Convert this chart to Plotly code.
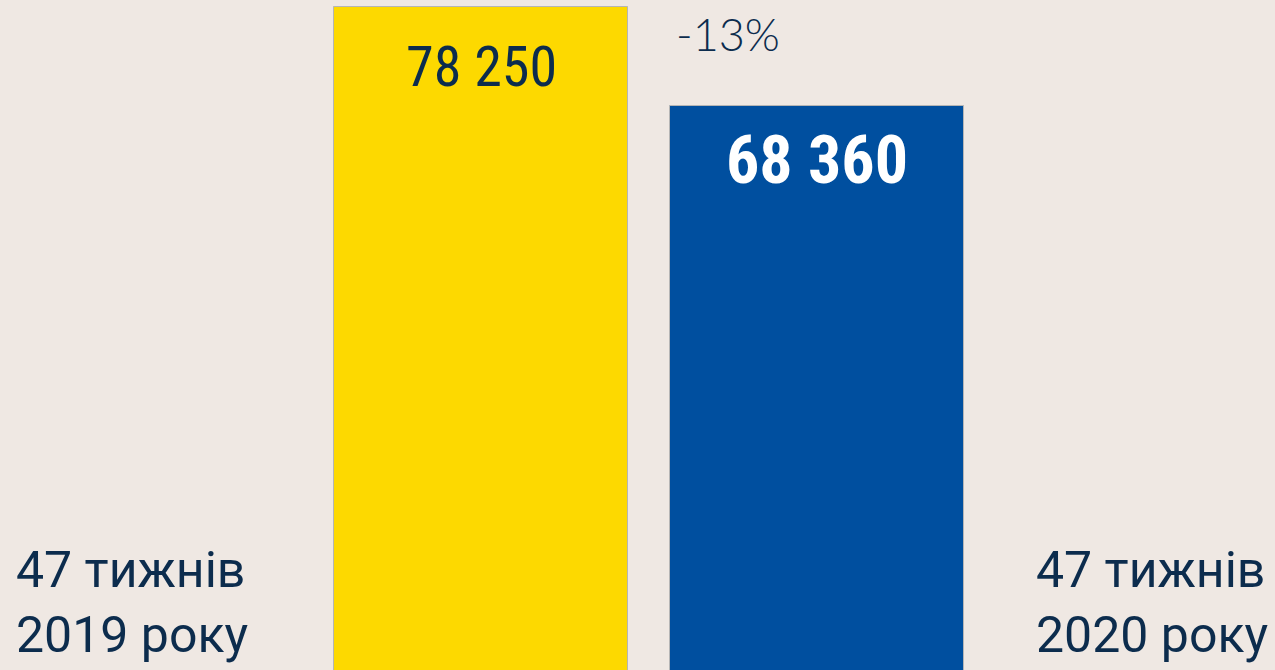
import plotly.graph_objects as go

categories = ["47 тижнів<br>2019 року", "47 тижнів<br>2020 року"]
values = [78250, 68360]
value_labels = ["78 250", "68 360"]
change_label = "-13%"

BG = "#EFE8E3"
NAVY = "#0C2C4D"
YELLOW = "#FDD900"
BLUE = "#004F9F"
NARROW = "Roboto Condensed, Liberation Sans Narrow, Arial Narrow, DejaVu Sans Condensed, sans-serif"

xs = [0, 1]
fig = go.Figure()
fig.add_trace(go.Bar(
    x=xs, y=values, width=0.875,
    marker=dict(color=[YELLOW, BLUE], line=dict(color="#B5B5B5", width=1)),
    hoverinfo="skip",
))

# value labels inside bars
fig.add_annotation(x=xs[0], y=values[0], xref="x", yref="y", text=value_labels[0],
                   showarrow=False, yanchor="top", yshift=-25,
                   font=dict(family=NARROW, size=56, color=NAVY))
fig.add_annotation(x=xs[1], y=values[1], xref="x", yref="y", text="<b>" + value_labels[1] + "</b>",
                   showarrow=False, yanchor="top", yshift=-14,
                   font=dict(family=NARROW, size=66, color="white"))
# change label
fig.add_annotation(x=0.735, y=values[0], xref="x", yref="y", text=change_label,
                   showarrow=False, yanchor="top", yshift=2,
                   font=dict(family="Lato", weight=300, size=45, color=NAVY))

# category labels
fig.add_annotation(x=14/1275, y=0, xref="paper", yref="paper", text=categories[0],
                   showarrow=False, xanchor="left", yanchor="bottom", align="left", yshift=4,
                   font=dict(family="Roboto", size=50, color=NAVY))
fig.add_annotation(x=1270/1275, y=0, xref="paper", yref="paper", text=categories[1],
                   showarrow=False, xanchor="right", yanchor="bottom", align="left", yshift=4,
                   font=dict(family="Roboto", size=50, color=NAVY))

fig.update_layout(
    width=1275, height=670,
    margin=dict(l=0, r=0, t=0, b=0),
    paper_bgcolor=BG, plot_bgcolor=BG,
    showlegend=False,
    bargap=0,
    xaxis=dict(range=[-481/336, (1275-481)/336], visible=False, fixedrange=True),
    yaxis=dict(range=[12016, 78949], visible=False, fixedrange=True),
)

fig.write_html("out.html", config={"displayModeBar": False},
               post_script="document.body.style.margin='0';document.body.style.background='%s';" % BG)
